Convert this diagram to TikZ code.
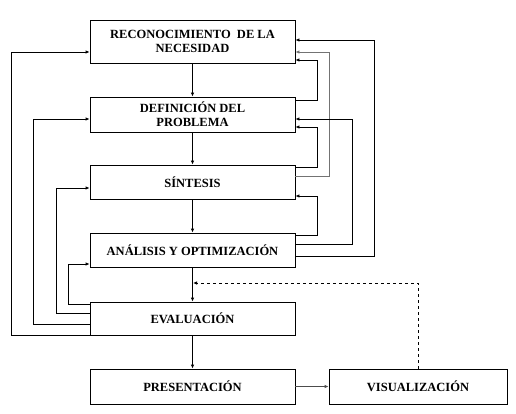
\documentclass[tikz,border=0pt]{standalone}
\usepackage{fontspec}
\setmainfont{Liberation Serif}
\usetikzlibrary{arrows.meta}

\tikzset{
  boite/.style={draw, line width=0.8pt, minimum width=205pt, align=center,
    font=\fontsize{12.5}{14}\selectfont\bfseries, inner sep=2pt},
  fleche/.style={line width=0.8pt, -{Latex[length=4pt,width=3.5pt]}},
  retour/.style={fleche},
}

\begin{document}
\begin{tikzpicture}[x=1pt, y=-1pt]
    \useasboundingbox (0,0) rectangle (516,414);

    % Etapas
    \node[boite, minimum height=43pt] (rec) at (192.5,41.5) {RECONOCIMIENTO\ \ DE LA\\NECESIDAD};
    \node[boite, minimum height=35pt] (def) at (192.5,114.5) {DEFINICIÓN DEL\\PROBLEMA};
    \node[boite, minimum height=34pt] (sin) at (192.5,182) {SÍNTESIS};
    \node[boite, minimum height=34pt] (ana) at (192.5,250) {ANÁLISIS Y OPTIMIZACIÓN};
    \node[boite, minimum height=33pt] (eva) at (192.5,318.5) {EVALUACIÓN};
    \node[boite, minimum height=35pt] (pre) at (192.5,386.5) {PRESENTACIÓN};
    \node[boite, minimum height=35pt, minimum width=178pt] (vis) at (418,386.5) {VISUALIZACIÓN};

    % Flujo principal
    \draw[fleche] (rec) -- (def);
    \draw[fleche] (def) -- (sin);
    \draw[fleche] (sin) -- (ana);
    \draw[fleche] (ana) -- (eva);
    \draw[fleche] (eva) -- (pre);
    \draw[fleche, black!70] (pre) -- (vis);

    % Retornos por la izquierda
    \draw[retour] (eva.west |- 0,335) -- (11,335) |- (rec.west |- 0,52);
    \draw[retour] (eva.west |- 0,324) -- (33,324) |- (def.west |- 0,119);
    \draw[retour] (eva.west |- 0,313) -- (56,313) |- (sin.west |- 0,188);
    \draw[retour] (eva.west |- 0,304) -- (68,304) |- (ana.west |- 0,264);

    % Retornos por la derecha
    \draw[retour] (ana.east |- 0,256) -- (374,256) |- (rec.east |- 0,40);
    \draw[retour, black!55] (sin.east |- 0,176) -- (329,176) |- (rec.east |- 0,52);
    \draw[retour] (def.east |- 0,100) -- (317,100) |- (rec.east |- 0,60);
    \draw[retour] (ana.east |- 0,244) -- (352,244) |- (def.east |- 0,119);
    \draw[retour] (sin.east |- 0,167) -- (317,167) |- (def.east |- 0,127);
    \draw[retour] (ana.east |- 0,235) -- (317,235) |- (sin.east |- 0,196);

    % Visualizacion
    \coordinate (v) at (193,283);
    \draw[fleche, dashed] (vis.north) |- (v);
\end{tikzpicture}
\end{document}
